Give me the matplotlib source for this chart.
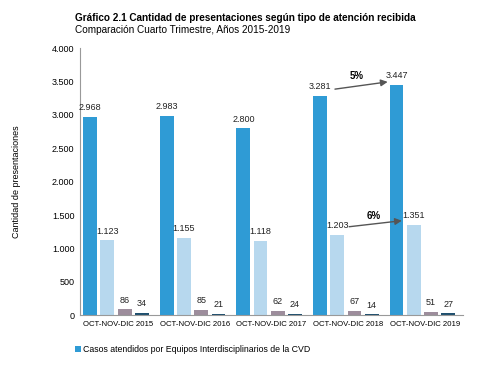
import numpy as np
import matplotlib
matplotlib.use("Agg")
import matplotlib.pyplot as plt

plt.rcParams['font.family'] = ['Liberation Sans', 'DejaVu Sans']

categories = ["OCT-NOV-DIC 2015", "OCT-NOV-DIC 2016", "OCT-NOV-DIC 2017",
              "OCT-NOV-DIC 2018", "OCT-NOV-DIC 2019"]
casos = [2968, 2983, 2800, 3281, 3447]
serie2 = [1123, 1155, 1118, 1203, 1351]
serie3 = [86, 85, 62, 67, 51]
serie4 = [34, 21, 24, 14, 27]
legend_label = "Casos atendidos por Equipos Interdisciplinarios de la CVD"

colors = ["#2f9bd5", "#b7d8ee", "#9d8d9c", "#1f4f6e"]

def fmt(v):
    return "{:,}".format(v).replace(",", ".")

fig = plt.figure(figsize=(5, 3.73), dpi=100)
ax = fig.add_axes([0.16, 0.155, 0.766, 0.716])

x = np.arange(len(categories))
w = 0.18
step = 0.225
series = [casos, serie2, serie3, serie4]
for i, (vals, c) in enumerate(zip(series, colors)):
    pos = x + (i - 1.5) * step - 0.03
    ax.bar(pos, vals, width=w, color=c, label=legend_label if i == 0 else None)
    for p, v in zip(pos, vals):
        ax.text(p, v + 70, fmt(v), ha="center", va="bottom", fontsize=6.5, color="#222222")

ax.set_xlim(-0.5, len(categories) - 0.5)
ax.set_ylim(0, 4000)
ax.set_yticks(range(0, 4001, 500))
ax.set_yticklabels([fmt(v) for v in range(0, 4001, 500)], fontsize=6.5)
ax.set_xticks(x)
ax.set_xticklabels(categories, fontsize=5.6)
ax.tick_params(axis="both", length=0, pad=4)
for s in ["top", "right"]:
    ax.spines[s].set_visible(False)
ax.spines["left"].set_color("#999999")
ax.spines["bottom"].set_color("#999999")
ax.set_ylabel("Cantidad de presentaciones", fontsize=6.5, labelpad=22)

# growth arrows
p0 = 3 + (0 - 1.5) * step - 0.03
p1 = 4 + (0 - 1.5) * step - 0.03
ax.annotate("", xy=(p1 - 0.08, 3500), xytext=(p0 + 0.16, 3380),
            arrowprops=dict(arrowstyle="-|>", color="#555555", lw=1))
ax.text((p0 + p1) / 2 - 0.02, 3530, "5%", fontsize=7, fontweight="bold", ha="center")
q0 = 3 + (1 - 1.5) * step - 0.03
q1 = 4 + (1 - 1.5) * step - 0.03
ax.annotate("", xy=(q1 - 0.12, 1420), xytext=(q0 + 0.12, 1320),
            arrowprops=dict(arrowstyle="-|>", color="#555555", lw=1))
ax.text((q0 + q1) / 2 - 0.02, 1440, "6%", fontsize=7, fontweight="bold", ha="center")

fig.text(0.15, 0.945, "Gráfico 2.1 Cantidad de presentaciones según tipo de atención recibida",
         fontsize=7.2, fontweight="bold", ha="left")
fig.text(0.15, 0.912, "Comparación Cuarto Trimestre, Años 2015-2019", fontsize=7.2, ha="left")

fig.legend(loc="lower left", bbox_to_anchor=(0.135, 0.03), fontsize=6.3, frameon=False,
           handlelength=0.6, handleheight=0.6, handletextpad=0.3)

fig.savefig("out.png", dpi=100)
